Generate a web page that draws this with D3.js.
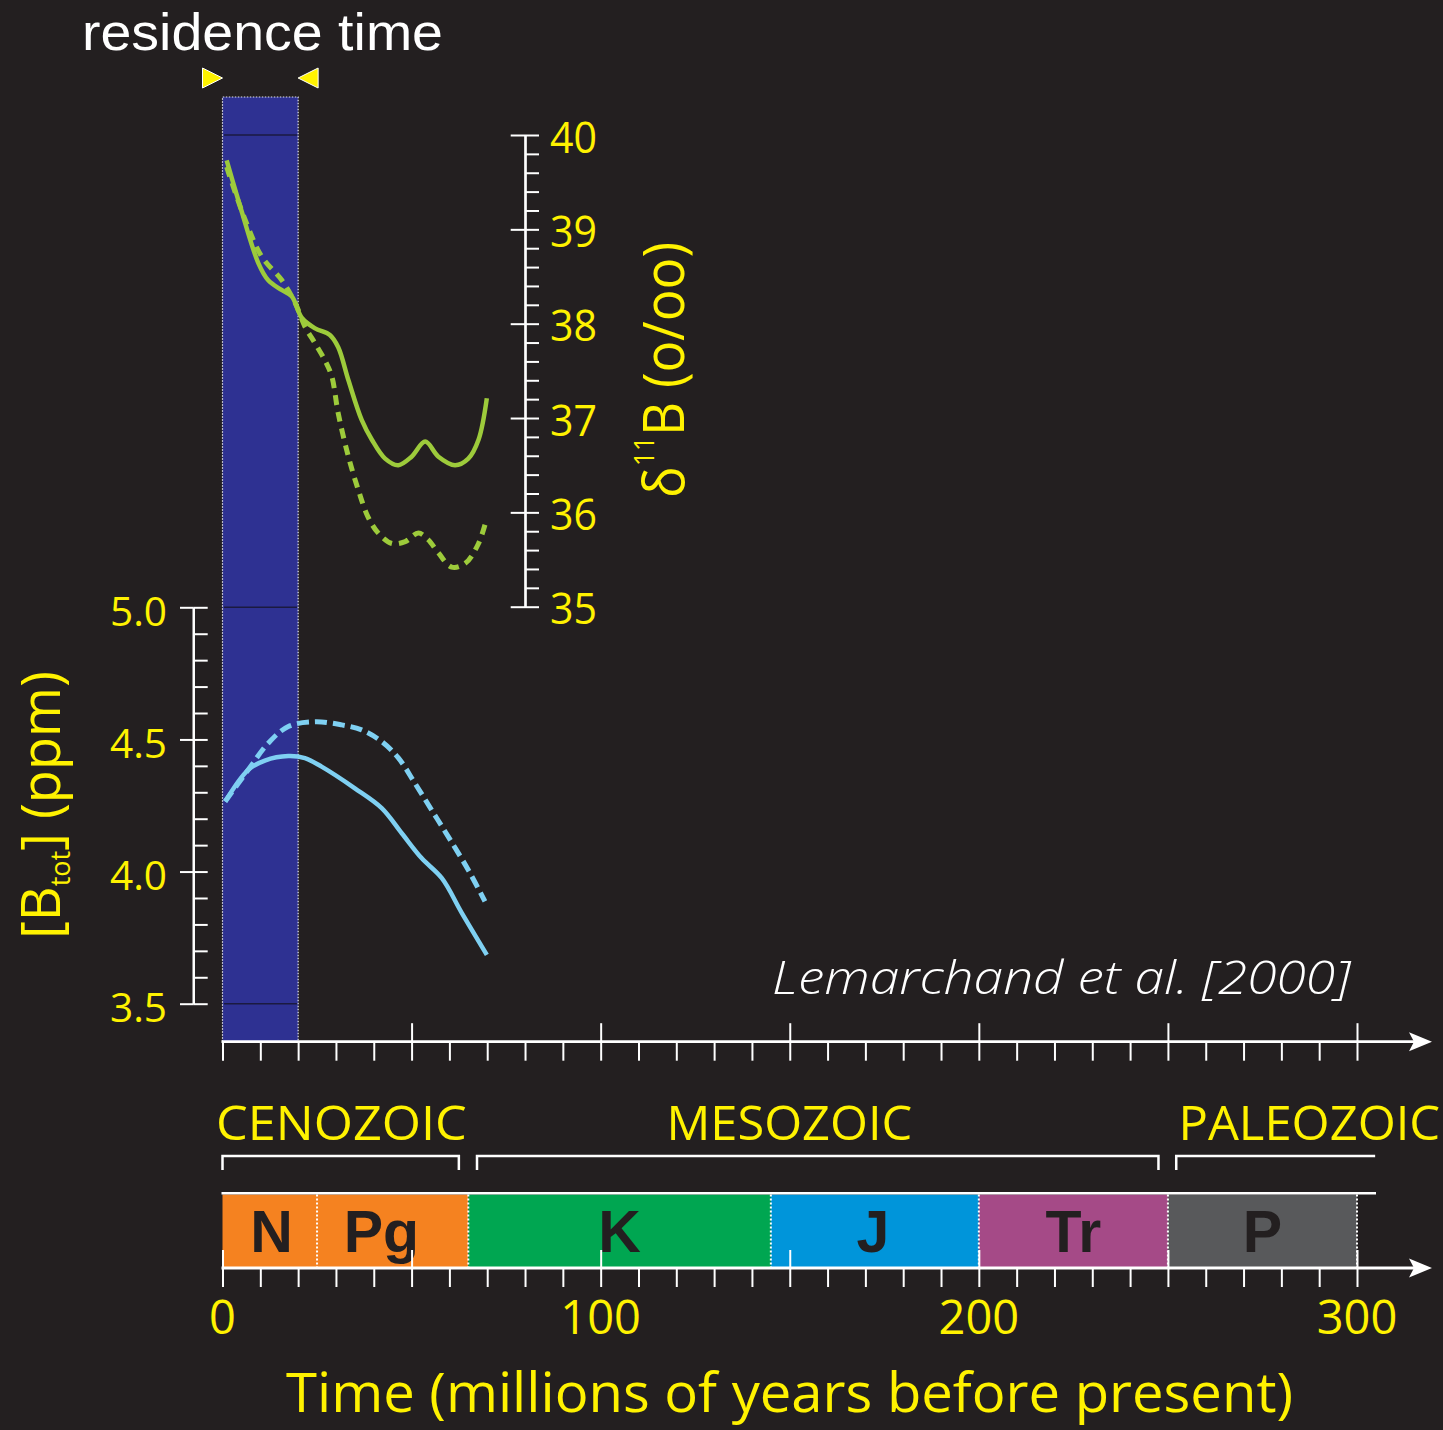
<!DOCTYPE html>
<html>
<head>
<meta charset="utf-8">
<script src="https://cdn.jsdelivr.net/npm/d3@7"></script>
<style>
  html, body { margin: 0; padding: 0; background: #231F20; }
  svg { display: block; }
</style>
</head>
<body>
<svg id="chart" width="1443" height="1430"></svg>
<script>
// ---- data ----------------------------------------------------------------
// boron isotope composition of seawater, δ11B (‰), time in Myr before present
const d11bSolid = [[1.1,39.73],[5,39.2],[9.5,38.64],[12.1,38.46],[15.5,38.36],[18.3,38.29],[21,38.06],[24.5,37.95],[28.4,37.88],[30.6,37.75],[33.3,37.40],[36.8,36.98],[39.5,36.77],[43,36.57],[46.5,36.50],[50,36.59],[53.6,36.75],[57.1,36.59],[61.5,36.50],[65,36.57],[67.7,36.77],[69.9,37.21]];
const d11bDashed = [[1.1,39.66],[6,39.10],[10.4,38.71],[15.7,38.46],[19.2,38.22],[21.8,37.97],[24.5,37.79],[27.1,37.61],[28.9,37.44],[30.6,37.05],[33.3,36.59],[35.9,36.24],[38.5,35.95],[41.2,35.78],[44.8,35.67],[48.3,35.69],[51.8,35.78],[54.4,35.71],[57.1,35.57],[60.6,35.42],[64.2,35.46],[67.7,35.67],[69.9,35.94]];
// total dissolved boron, [B_tot] (ppm)
const bTotSolid = [[0.7,4.265],[6.8,4.385],[11.2,4.42],[17.4,4.437],[21.8,4.429],[26.2,4.397],[35,4.315],[42.1,4.24],[47.4,4.145],[52.7,4.05],[58,3.975],[63.3,3.843],[69.9,3.685]];
const bTotDashed = [[0.7,4.265],[6.8,4.385],[12.1,4.486],[17.4,4.549],[24.5,4.567],[31.5,4.555],[36.8,4.536],[42.1,4.492],[46.5,4.43],[50.9,4.334],[55.3,4.233],[59.7,4.132],[65,4.006],[69.4,3.887]];

const residenceTime = [0, 20];

const timeMinorTicks = d3.range(0, 301, 10);
const timeMajorTicks = [0, 50, 100, 150, 200, 250, 300];
const timeTickLabels = [0, 100, 200, 300];
const bTotTickLabels = [3.5, 4.0, 4.5, 5.0];
const d11bTickLabels = [35, 36, 37, 38, 39, 40];

const eras = [
  { name: "CENOZOIC", from: 0, to: 62.5, labelFrom: -1.7, labelTo: 64.6, rightTick: true },
  { name: "MESOZOIC", from: 67.3, to: 247.5, labelFrom: 117.4, labelTo: 182.4, rightTick: true },
  { name: "PALEOZOIC", from: 252.2, to: 304.8, labelFrom: 252.8, labelTo: 322, rightTick: false }
];
const periods = [
  { name: "N",  from: 0,   to: 25,  labelAt: 13,  color: "#F58220" },
  { name: "Pg", from: 25,  to: 65,  labelAt: 42,  color: "#F58220" },
  { name: "K",  from: 65,  to: 145, labelAt: 105, color: "#00A651" },
  { name: "J",  from: 145, to: 200, labelAt: 172, color: "#0095DA" },
  { name: "Tr", from: 200, to: 250, labelAt: 225, color: "#A54A87" },
  { name: "P",  from: 250, to: 300, labelAt: 275, color: "#58595B" }
];

// ---- styles ----------------------------------------------------------------
const BG = "#231F20", YELLOW = "#FFF200", WHITE = "#FFFFFF";
const GREEN = "#9DCB3B", LIGHTBLUE = "#7FD0F2", NAVY = "#2E3192";
const SANS = "'Open Sans', 'DejaVu Sans', sans-serif";
const ARIAL = "'Liberation Sans', Arial, sans-serif";

// ---- scales ----------------------------------------------------------------
const x  = d3.scaleLinear().domain([0, 300]).range([222.5, 1357]);
const yB = d3.scaleLinear().domain([3.5, 5.0]).range([1003.7, 607.3]);
const yD = d3.scaleLinear().domain([35, 40]).range([606.7, 135]);

const svg = d3.select("#chart");
svg.append("rect").attr("width", 1443).attr("height", 1430).attr("fill", BG);

const axisTop = 1041.7, axisBottom = 1268, barTop = 1194.5;

// ---- residence time band ---------------------------------------------------
const band = svg.append("g");
band.append("rect")
  .attr("x", x(residenceTime[0])).attr("y", 97)
  .attr("width", x(residenceTime[1]) - x(residenceTime[0]))
  .attr("height", axisTop - 97)
  .attr("fill", NAVY);
band.append("path")
  .attr("d", `M${x(residenceTime[0])},${axisTop}V97H${x(residenceTime[1])}V${axisTop}`)
  .attr("fill", "none").attr("stroke", "#E6E7F0").attr("stroke-width", 1.2)
  .attr("stroke-dasharray", "1.5,1.5");
// panel frame edges crossing the band
[yD(40), yB(5.0), yB(3.5)].forEach(yy => {
  band.append("line")
    .attr("x1", x(residenceTime[0]) + 1.5).attr("x2", x(residenceTime[1]) - 1)
    .attr("y1", yy).attr("y2", yy)
    .attr("stroke", "#1B1A40").attr("stroke-width", 1.5);
});

// residence time markers
const tri = svg.append("g");
tri.append("path")
  .attr("d", `M${x(residenceTime[0]) - 20},68L${x(residenceTime[0])},78L${x(residenceTime[0]) - 20},88Z`)
  .attr("fill", YELLOW).attr("stroke", WHITE).attr("stroke-width", 1);
tri.append("path")
  .attr("d", `M${x(residenceTime[1]) + 20},68L${x(residenceTime[1])},78L${x(residenceTime[1]) + 20},88Z`)
  .attr("fill", YELLOW).attr("stroke", WHITE).attr("stroke-width", 1);
svg.append("text")
  .attr("x", 82).attr("y", 50)
  .attr("font-family", ARIAL).attr("font-size", 52)
  .attr("fill", WHITE)
  .attr("textLength", 361).attr("lengthAdjust", "spacingAndGlyphs")
  .text("residence time");

// ---- curves ----------------------------------------------------------------
const lineD = d3.line().x(d => x(d[0])).y(d => yD(d[1])).curve(d3.curveCatmullRom.alpha(0.5));
const lineB = d3.line().x(d => x(d[0])).y(d => yB(d[1])).curve(d3.curveCatmullRom.alpha(0.5));

const curves = svg.append("g").attr("fill", "none");
curves.append("path").attr("d", lineD(d11bDashed))
  .attr("stroke", GREEN).attr("stroke-width", 5).attr("stroke-dasharray", "10,7");
curves.append("path").attr("d", lineD(d11bSolid))
  .attr("stroke", GREEN).attr("stroke-width", 4.5);
curves.append("path").attr("d", lineB(bTotDashed))
  .attr("stroke", LIGHTBLUE).attr("stroke-width", 5).attr("stroke-dasharray", "12,6");
curves.append("path").attr("d", lineB(bTotSolid))
  .attr("stroke", LIGHTBLUE).attr("stroke-width", 4.5);

// ---- [B_tot] axis (left) ---------------------------------------------------
const leftX = 193.3;
const gLeft = svg.append("g").attr("transform", `translate(${leftX},0)`);
gLeft.call(d3.axisRight(yB).tickValues(d3.range(35, 51).map(v => v / 10)).tickSize(14.4).tickSizeOuter(0).tickFormat(""));
gLeft.append("g").call(d3.axisLeft(yB).tickValues(bTotTickLabels).tickSize(13.3).tickSizeOuter(0).tickFormat(""));
gLeft.selectAll("path.domain").attr("stroke", WHITE).attr("stroke-width", 2.2);
gLeft.selectAll("line").attr("stroke", WHITE).attr("stroke-width", 2);

svg.append("g").selectAll("text").data(bTotTickLabels).join("text")
  .attr("x", 167).attr("y", d => yB(d) + 18.5)
  .attr("text-anchor", "end")
  .attr("font-family", SANS).attr("font-size", 40)
  .attr("fill", YELLOW)
  .attr("textLength", 57).attr("lengthAdjust", "spacingAndGlyphs")
  .text(d => d.toFixed(1));

const leftTitle = svg.append("text")
  .attr("transform", "translate(60,805) rotate(-90)")
  .attr("text-anchor", "middle")
  .attr("font-family", SANS).attr("font-size", 54)
  .attr("fill", YELLOW);
leftTitle.append("tspan").text("[B");
leftTitle.append("tspan").attr("font-size", 27).attr("dy", 10).text("tot");
leftTitle.append("tspan").attr("dy", -10).text("] (ppm)");

// ---- δ11B axis (right) -----------------------------------------------------
const rightX = 525;
const gRight = svg.append("g").attr("transform", `translate(${rightX},0)`);
gRight.call(d3.axisRight(yD).tickValues(d3.range(175, 201).map(v => v / 5)).tickSize(14).tickSizeOuter(0).tickFormat(""));
gRight.append("g").call(d3.axisLeft(yD).tickValues(d11bTickLabels).tickSize(14.3).tickSizeOuter(0).tickFormat(""));
gRight.selectAll("path.domain").attr("stroke", WHITE).attr("stroke-width", 2.2);
gRight.selectAll("line").attr("stroke", WHITE).attr("stroke-width", 2);

svg.append("g").selectAll("text").data(d11bTickLabels).join("text")
  .attr("x", 550).attr("y", d => yD(d) + 17.5)
  .attr("font-family", SANS).attr("font-size", 44)
  .attr("fill", YELLOW)
  .attr("textLength", 47).attr("lengthAdjust", "spacingAndGlyphs")
  .text(d => d);

const rightTitle = svg.append("text")
  .attr("transform", "translate(684,370) rotate(-90)")
  .attr("text-anchor", "middle")
  .attr("font-family", SANS).attr("font-size", 56)
  .attr("fill", YELLOW)
  .attr("textLength", 256).attr("lengthAdjust", "spacingAndGlyphs");
rightTitle.append("tspan").text("δ");
rightTitle.append("tspan").attr("font-size", 28).attr("dy", -30).text("11");
rightTitle.append("tspan").attr("dy", 30).text("B (o/oo)");

// ---- time axes -------------------------------------------------------------
function timeAxis(y, majorUp, withZeroUp) {
  const g = svg.append("g").attr("transform", `translate(0,${y})`);
  g.call(d3.axisBottom(x).tickValues(timeMinorTicks).tickSize(19).tickSizeOuter(0).tickFormat(""));
  g.append("g").call(d3.axisTop(x).tickValues(timeMajorTicks.filter(t => withZeroUp || t !== 0)).tickSize(majorUp).tickSizeOuter(0).tickFormat(""));
  g.selectAll("path.domain").remove();
  g.selectAll("line").attr("stroke", WHITE).attr("stroke-width", 2);
  g.append("line").attr("x1", x(0) - 1).attr("x2", 1418).attr("y1", 0).attr("y2", 0)
    .attr("stroke", WHITE).attr("stroke-width", 2.8);
  g.append("path").attr("d", "M1432,0L1409,-9.5L1414,0L1409,9.5Z").attr("fill", WHITE);
  return g;
}

// geologic periods bar (drawn before the lower axis so major ticks sit on top)
const gBar = svg.append("g");
gBar.selectAll("rect").data(periods).join("rect")
  .attr("x", d => x(d.from)).attr("y", barTop)
  .attr("width", d => x(d.to) - x(d.from))
  .attr("height", axisBottom - barTop)
  .attr("fill", d => d.color);
gBar.selectAll("line.div").data(periods).join("line")
  .attr("class", "div")
  .attr("x1", d => x(d.to)).attr("x2", d => x(d.to))
  .attr("y1", barTop).attr("y2", axisBottom)
  .attr("stroke", WHITE).attr("stroke-width", 2).attr("stroke-dasharray", "2,2");
gBar.append("line")
  .attr("x1", x(0) - 1).attr("x2", 1376).attr("y1", 1193.3).attr("y2", 1193.3)
  .attr("stroke", WHITE).attr("stroke-width", 2.5);
gBar.selectAll("text").data(periods).join("text")
  .attr("x", d => x(d.labelAt)).attr("y", 1252)
  .attr("text-anchor", "middle")
  .attr("font-family", ARIAL).attr("font-weight", "bold").attr("font-size", 59)
  .attr("fill", BG)
  .text(d => d.name);

timeAxis(axisTop, 18.5, false);
timeAxis(axisBottom, 18, true);

svg.append("g").selectAll("text").data(timeTickLabels).join("text")
  .attr("x", d => x(d)).attr("y", 1334)
  .attr("text-anchor", "middle")
  .attr("font-family", SANS).attr("font-size", 47)
  .attr("fill", YELLOW)
  .text(d => d);

svg.append("text")
  .attr("x", 286).attr("y", 1412)
  .attr("font-family", SANS).attr("font-size", 54)
  .attr("fill", YELLOW)
  .attr("textLength", 1007).attr("lengthAdjust", "spacingAndGlyphs")
  .text("Time (millions of years before present)");

// ---- eras ------------------------------------------------------------------
const gEra = svg.append("g");
eras.forEach(e => {
  const x0 = x(e.from), x1 = x(e.to);
  let d = `M${x0},1170V1156H${x1}`;
  if (e.rightTick) d += "V1170";
  gEra.append("path").attr("d", d)
    .attr("fill", "none").attr("stroke", WHITE).attr("stroke-width", 2.5);
  gEra.append("text")
    .attr("x", x(e.labelFrom)).attr("y", 1140)
    .attr("font-family", SANS).attr("font-size", 48)
    .attr("fill", YELLOW)
    .attr("textLength", x(e.labelTo) - x(e.labelFrom)).attr("lengthAdjust", "spacingAndGlyphs")
    .text(e.name);
});

// ---- source ----------------------------------------------------------------
svg.append("text")
  .attr("x", 772).attr("y", 994)
  .attr("font-family", SANS).attr("font-size", 46).attr("font-style", "italic")
  .attr("font-weight", 300)
  .attr("fill", WHITE)
  .attr("textLength", 579).attr("lengthAdjust", "spacingAndGlyphs")
  .text("Lemarchand et al. [2000]");
</script>
</body>
</html>
